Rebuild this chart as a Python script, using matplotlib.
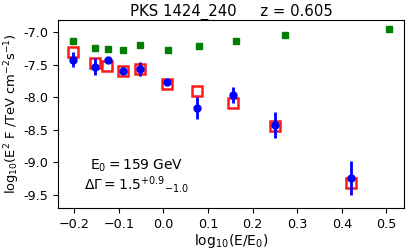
import matplotlib
matplotlib.use('Agg')
import matplotlib.pyplot as plt
import numpy as np

# green: intrinsic (deabsorbed) points
x_green = [-0.202, -0.153, -0.125, -0.090, -0.052, 0.011, 0.080, 0.163, 0.273, 0.505]
y_green = [-7.134, -7.246, -7.26, -7.28, -7.19, -7.28, -7.21, -7.13, -7.05, -6.945]

# red: model points
x_red = [-0.202, -0.153, -0.126, -0.090, -0.052, 0.0075, 0.076, 0.157, 0.250, 0.420]
y_red = [-7.31, -7.47, -7.52, -7.60, -7.57, -7.795, -7.90, -8.09, -8.45, -9.32]

# blue: observed points with errors
x_blue = [-0.202, -0.153, -0.125, -0.091, -0.052, 0.007, 0.076, 0.157, 0.251, 0.420]
y_blue = [-7.42, -7.53, -7.43, -7.59, -7.565, -7.77, -8.165, -7.965, -8.43, -9.25]
e_blue = [0.12, 0.13, 0.04, 0.06, 0.11, 0.04, 0.17, 0.12, 0.2, 0.26]

fig = plt.figure(figsize=(4.15, 2.52), dpi=100)
ax = fig.add_axes([0.139, 0.174, 0.835, 0.747])

ax.plot(x_green, y_green, 's', color='green', ms=4.3, ls='none')
ax.errorbar(x_blue, y_blue, yerr=e_blue, fmt='o', color='blue', ms=5, elinewidth=2, capsize=0, zorder=3)
ax.plot(x_red, y_red, 's', mfc='white', mec='red', ms=6.5, mew=1.8, ls='none', zorder=2, alpha=0.9)

ax.set_xlim(-0.237, 0.540)
ax.set_ylim(-9.71, -6.81)
ax.set_xticks([-0.2, -0.1, 0.0, 0.1, 0.2, 0.3, 0.4, 0.5])
ax.set_yticks([-9.5, -9.0, -8.5, -8.0, -7.5, -7.0])
ax.set_yticklabels(['-9.5', '-9.0', '-8.5', '-8.0', '-7.5', '-7.0'])
ax.tick_params(labelsize=9.2)

ax.set_title('PKS 1424_240     z = 0.605', fontsize=10.7, pad=3)
ax.set_xlabel(r'log$_{10}$(E/E$_0$)', fontsize=10, labelpad=1)
ax.set_ylabel(r'log$_{10}$(E$^2$ F /TeV cm$^{-2}$s$^{-1}$)', fontsize=9.4, labelpad=1)

ax.text(0.229, 0.205, r'E$_0 = $159 GeV', transform=ax.transAxes, fontsize=10,
        ha='center', va='baseline')
ax.text(0.229, 0.098, r'$\Delta\Gamma = 1.5^{+0.9}{}_{-1.0}$', transform=ax.transAxes, fontsize=10,
        ha='center', va='baseline')

fig.savefig('out.png', dpi=100)
